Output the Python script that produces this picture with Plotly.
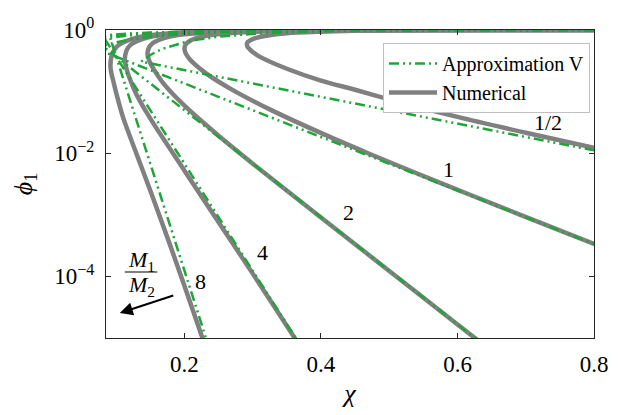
import plotly.graph_objects as go

# ---------------- data (chi, phi_1) ----------------
ratio_labels = ["1/2", "1", "2", "4", "8"]

# Numerical binodals: lower (phi_1-poor) and upper (phi_1-rich) branches
num_half_lo_chi = [0.2914, 0.2925, 0.295, 0.300, 0.310, 0.350, 0.400, 0.450, 0.500, 0.600, 0.700, 0.800]
num_half_lo_phi = [0.586, 0.53, 0.495, 0.44, 0.37, 0.235, 0.151, 0.107, 0.075, 0.0388, 0.0215, 0.0122]
num_half_up_chi = [0.2914, 0.2925, 0.295, 0.300, 0.310, 0.350, 0.400, 0.450, 0.500, 0.600, 0.700, 0.800]
num_half_up_phi = [0.586, 0.64, 0.665, 0.71, 0.77, 0.886, 0.9404, 0.968, 0.981, 0.9933, 0.99755, 0.9991]

num_1_lo_chi = [0.2, 0.2007, 0.2027, 0.2063, 0.2118, 0.2197, 0.2310, 0.2478, 0.2747, 0.3272, 0.4054, 0.4689, 0.5347, 0.6238, 0.6921, 0.7608, 0.8021]
num_1_lo_phi = [0.5, 0.45, 0.4, 0.35, 0.3, 0.25, 0.2, 0.15, 0.1, 0.05, 0.02, 0.01, 0.005, 0.002, 0.001, 0.0005, 0.00033]
num_1_up_chi = [0.2, 0.2007, 0.2027, 0.2063, 0.2118, 0.2197, 0.2310, 0.2478, 0.2747, 0.3272, 0.4054, 0.4689, 0.5347, 0.6238, 0.6921, 0.7608, 0.8021]
num_1_up_phi = [0.5, 0.55, 0.6, 0.65, 0.7, 0.75, 0.8, 0.85, 0.9, 0.95, 0.98, 0.99, 0.995, 0.998, 0.999, 0.9995, 0.99967]

num_2_lo_chi = [0.1457, 0.148, 0.150, 0.155, 0.170, 0.200, 0.250, 0.300, 0.400, 0.500, 0.600, 0.650]
num_2_lo_phi = [0.414, 0.325, 0.29, 0.23, 0.132, 0.059, 0.0192, 0.00677, 9.02e-4, 1.227e-4, 1.66e-5, 6.14e-6]
num_2_up_chi = [0.1457, 0.148, 0.150, 0.155, 0.170, 0.200, 0.250, 0.300, 0.400, 0.500, 0.600, 0.800]
num_2_up_phi = [0.414, 0.52, 0.56, 0.63, 0.740, 0.849, 0.9274, 0.9615, 0.98775, 0.99573, 0.99847, 0.99981]

num_4_lo_chi = [0.1125, 0.115, 0.120, 0.130, 0.150, 0.200, 0.250, 0.300, 0.3614, 0.380]
num_4_lo_phi = [0.333, 0.235, 0.16, 0.088, 0.0364, 0.0052, 7.57e-4, 1.109e-4, 1.0e-5, 4.8e-6]
num_4_up_chi = [0.1125, 0.115, 0.120, 0.130, 0.150, 0.200, 0.250, 0.300, 0.400, 0.500, 0.600, 0.800]
num_4_up_phi = [0.333, 0.463, 0.56, 0.657, 0.774, 0.899, 0.948, 0.9716, 0.99067, 0.99671, 0.99883, 0.99984]

num_8_lo_chi = [0.0915, 0.093, 0.095, 0.100, 0.110, 0.130, 0.150, 0.175, 0.200, 0.225, 0.235]
num_8_lo_phi = [0.261, 0.195, 0.16, 0.095, 0.0381, 0.00956, 0.00246, 4.26e-4, 7.0e-5, 1.1e-5, 5.2e-6]
num_8_up_chi = [0.0915, 0.093, 0.095, 0.100, 0.110, 0.130, 0.150, 0.175, 0.200, 0.225, 0.300, 0.400, 0.500, 0.600, 0.800]
num_8_up_phi = [0.261, 0.37, 0.43, 0.525, 0.624, 0.752, 0.825, 0.881, 0.9163, 0.93975, 0.97547, 0.9918, 0.9971, 0.99897, 0.99986]

# Approximation V: lower and upper branches (meeting at a cusp)
apx_half_lo_chi = [0.1366, 0.800]
apx_half_lo_phi = [0.3063, 0.01111]
apx_half_up_chi = [0.1366, 0.140, 0.150, 0.160, 0.170, 0.180, 0.200, 0.220, 0.250, 0.300, 0.350, 0.400, 0.500, 0.600, 0.700, 0.800]
apx_half_up_phi = [0.3065, 0.3297, 0.3935, 0.4512, 0.5034, 0.5507, 0.6321, 0.6988, 0.7769, 0.8647, 0.9179, 0.9502, 0.9817, 0.99326, 0.99752, 0.99909]

apx_1_lo_chi = [0.0693, 0.800]
apx_1_lo_phi = [0.5, 3.355e-4]
apx_1_up_chi = [0.0693, 0.084, 0.100, 0.120, 0.150, 0.200, 0.250, 0.300, 0.400, 0.500, 0.600, 0.800]
apx_1_up_phi = [0.5, 0.5683, 0.6321, 0.6988, 0.7769, 0.8647, 0.9179, 0.9502, 0.9817, 0.99326, 0.99752, 0.99966]

apx_2_lo_chi = [0.0683, 0.650]
apx_2_lo_phi = [0.6935, 6.144e-6]
apx_2_up_chi = [0.0683, 0.084, 0.100, 0.120, 0.150, 0.200, 0.250, 0.300, 0.400, 0.500, 0.600, 0.800]
apx_2_up_phi = [0.6937, 0.7382, 0.7769, 0.8173, 0.8647, 0.9179, 0.9502, 0.9698, 0.98889, 0.99591, 0.9985, 0.9998]

apx_4_lo_chi = [0.0809, 0.380]
apx_4_lo_phi = [0.790, 5.03e-6]
apx_4_up_chi = [0.0809, 0.090, 0.100, 0.120, 0.150, 0.200, 0.250, 0.300, 0.400, 0.500, 0.600, 0.800]
apx_4_up_phi = [0.790, 0.808, 0.8262, 0.8577, 0.8946, 0.9361, 0.9612, 0.97648, 0.99135, 0.99682, 0.99883, 0.99984]

apx_8_lo_chi = [0.0898, 0.240]
apx_8_lo_phi = [0.832, 5.03e-6]
apx_8_up_chi = [0.0898, 0.100, 0.120, 0.150, 0.200, 0.250, 0.300, 0.400, 0.500, 0.600, 0.800]
apx_8_up_phi = [0.8302, 0.8466, 0.8744, 0.9070, 0.9436, 0.9658, 0.97925, 0.99237, 0.99719, 0.99897, 0.99986]

x_ticks = [0.2, 0.4, 0.6, 0.8]
x_tick_text = ["0.2", "0.4", "0.6", "0.8"]
y_ticks = [1, 1e-2, 1e-4]
y_tick_text = ["10<sup>0</sup>", "10<sup>−2</sup>", "10<sup>−4</sup>"]

# ---------------- figure ----------------
GRAY = "#808080"
GREEN = "#1fa53a"
FONT = "Liberation Serif"

numerical = [
    (num_half_lo_chi, num_half_lo_phi, num_half_up_chi, num_half_up_phi),
    (num_1_lo_chi, num_1_lo_phi, num_1_up_chi, num_1_up_phi),
    (num_2_lo_chi, num_2_lo_phi, num_2_up_chi, num_2_up_phi),
    (num_4_lo_chi, num_4_lo_phi, num_4_up_chi, num_4_up_phi),
    (num_8_lo_chi, num_8_lo_phi, num_8_up_chi, num_8_up_phi),
]
approx = [
    (apx_half_lo_chi, apx_half_lo_phi, apx_half_up_chi, apx_half_up_phi),
    (apx_1_lo_chi, apx_1_lo_phi, apx_1_up_chi, apx_1_up_phi),
    (apx_2_lo_chi, apx_2_lo_phi, apx_2_up_chi, apx_2_up_phi),
    (apx_4_lo_chi, apx_4_lo_phi, apx_4_up_chi, apx_4_up_phi),
    (apx_8_lo_chi, apx_8_lo_phi, apx_8_up_chi, apx_8_up_phi),
]

fig = go.Figure()

for i, (lc, lp, uc, up) in enumerate(numerical):
    fig.add_trace(go.Scatter(
        x=uc[::-1] + lc[1:], y=up[::-1] + lp[1:], mode="lines",
        line=dict(color=GRAY, width=4.5, shape="spline", smoothing=0.8),
        name="Numerical", legendgroup="num", showlegend=(i == 0), legendrank=2,
        hoverinfo="skip"))

for i, (lc, lp, uc, up) in enumerate(approx):
    fig.add_trace(go.Scatter(
        x=uc[::-1] + lc[1:], y=up[::-1] + lp[1:], mode="lines",
        line=dict(color=GREEN, width=2.5, dash="10px,4px,2px,4px,2px,4px"),
        name="Approximation V", legendgroup="apx", showlegend=(i == 0), legendrank=1,
        hoverinfo="skip"))

AX = "#262626"
fig.update_xaxes(
    range=[0.085, 0.8], tickvals=x_ticks, ticktext=x_tick_text,
    ticks="inside", ticklen=5, tickcolor=AX, showline=True, linecolor=AX, linewidth=1,
    mirror="allticks", showgrid=False, zeroline=False,
    tickfont=dict(family=FONT, size=23, color="black"), ticklabelstandoff=5,
    title=dict(text="<i>χ</i>", font=dict(family=FONT, size=26, color="black"), standoff=8))
fig.update_yaxes(
    type="log", range=[-5, 0], tickvals=y_ticks, ticktext=y_tick_text,
    ticks="inside", ticklen=5, tickcolor=AX, showline=True, linecolor=AX, linewidth=1,
    mirror="allticks", showgrid=False, zeroline=False,
    tickfont=dict(family=FONT, size=23, color="black"), ticklabelstandoff=6,
    title=dict(text="<i>ϕ</i><sub>1</sub>", font=dict(family=FONT, size=26, color="black"), standoff=14))

L, R, T, B = 106, 19, 30, 77
W, H = 620, 415
pw, ph = W - L - R, H - T - B

def px(xp):
    return (xp - L) / pw

def py(yp):
    return (H - B - yp) / ph

def label(text, xx, yy, size=22):
    fig.add_annotation(x=px(xx), y=py(yy), xref="paper", yref="paper", text=text,
                       xanchor="center", yanchor="middle", showarrow=False,
                       font=dict(family=FONT, size=size, color="black"))

labels_pos = [(554, 122), (453, 169), (352, 213), (265, 252), (202, 281)]
for lab, (xx, yy) in zip(ratio_labels, labels_pos):
    label(lab, xx, yy)

label("<i>M</i><sub>1</sub>", 142, 261)
label("<i>M</i><sub>2</sub>", 142, 286)
fig.add_shape(type="line", xref="paper", yref="paper", x0=px(125), x1=px(158), y0=py(272), y1=py(272),
              line=dict(color="black", width=1.2))
fig.add_annotation(x=px(120), y=py(313), xref="paper", yref="paper", text="", showarrow=True,
                   ax=55, ay=-18, arrowhead=2, arrowsize=1.3, arrowwidth=2, arrowcolor="black")

fig.update_layout(
    width=W, height=H, margin=dict(l=L, r=R, t=T, b=B),
    paper_bgcolor="white", plot_bgcolor="white",
    font=dict(family=FONT, color="black"),
    legend=dict(x=px(387), y=py(43), xanchor="left", yanchor="top",
                bgcolor="white", bordercolor="#c0c0c0", borderwidth=1,
                font=dict(family=FONT, size=20, color="black"), itemwidth=48,
                tracegroupgap=0),
)

fig.write_html("out.html")
